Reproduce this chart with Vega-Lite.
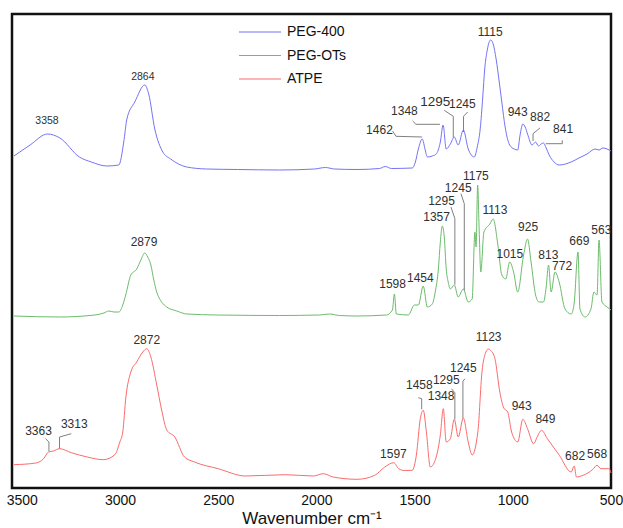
{
  "$schema": "https://vega.github.io/schema/vega-lite/v6.json",
  "width": 599,
  "height": 474,
  "padding": {"left": 6, "top": 12, "right": 0, "bottom": 0},
  "background": "white",
  "config": {
    "view": {"stroke": "#111111", "strokeWidth": 2},
    "font": "Liberation Sans"
  },
  "datasets": {
    "spectra": [
      {"series":"PEG-400","wn":3540,"a":336},{"series":"PEG-400","wn":3458,"a":347},{"series":"PEG-400","wn":3369,"a":358},{"series":"PEG-400","wn":3306,"a":354},{"series":"PEG-400","wn":3207,"a":335},{"series":"PEG-400","wn":3146,"a":330},{"series":"PEG-400","wn":3067,"a":326},{"series":"PEG-400","wn":3006,"a":327},{"series":"PEG-400","wn":2981,"a":350},{"series":"PEG-400","wn":2965,"a":373},{"series":"PEG-400","wn":2925,"a":390},{"series":"PEG-400","wn":2874,"a":407},{"series":"PEG-400","wn":2854,"a":398},{"series":"PEG-400","wn":2823,"a":363},{"series":"PEG-400","wn":2782,"a":340},{"series":"PEG-400","wn":2742,"a":333},{"series":"PEG-400","wn":2660,"a":325},{"series":"PEG-400","wn":2559,"a":323},{"series":"PEG-400","wn":2401,"a":322.5},{"series":"PEG-400","wn":2188,"a":322},{"series":"PEG-400","wn":2010,"a":323},{"series":"PEG-400","wn":1954,"a":324.5},{"series":"PEG-400","wn":1908,"a":323},{"series":"PEG-400","wn":1793,"a":322.5},{"series":"PEG-400","wn":1679,"a":323.5},{"series":"PEG-400","wn":1649,"a":325.5},{"series":"PEG-400","wn":1618,"a":323.5},{"series":"PEG-400","wn":1512,"a":324},{"series":"PEG-400","wn":1496,"a":330},{"series":"PEG-400","wn":1481,"a":343},{"series":"PEG-400","wn":1461,"a":353},{"series":"PEG-400","wn":1446,"a":342},{"series":"PEG-400","wn":1435,"a":335},{"series":"PEG-400","wn":1410,"a":336},{"series":"PEG-400","wn":1390,"a":338},{"series":"PEG-400","wn":1369,"a":350},{"series":"PEG-400","wn":1355,"a":367},{"series":"PEG-400","wn":1339,"a":343},{"series":"PEG-400","wn":1318,"a":348},{"series":"PEG-400","wn":1298,"a":355},{"series":"PEG-400","wn":1278,"a":347},{"series":"PEG-400","wn":1252,"a":362},{"series":"PEG-400","wn":1227,"a":343},{"series":"PEG-400","wn":1196,"a":335},{"series":"PEG-400","wn":1181,"a":345},{"series":"PEG-400","wn":1166,"a":363},{"series":"PEG-400","wn":1153,"a":395},{"series":"PEG-400","wn":1143,"a":423},{"series":"PEG-400","wn":1130,"a":442},{"series":"PEG-400","wn":1113,"a":452},{"series":"PEG-400","wn":1100,"a":448},{"series":"PEG-400","wn":1085,"a":433},{"series":"PEG-400","wn":1069,"a":410},{"series":"PEG-400","wn":1056,"a":390},{"series":"PEG-400","wn":1039,"a":365},{"series":"PEG-400","wn":1016,"a":347},{"series":"PEG-400","wn":993,"a":343},{"series":"PEG-400","wn":975,"a":342},{"series":"PEG-400","wn":963,"a":357},{"series":"PEG-400","wn":949,"a":368},{"series":"PEG-400","wn":937,"a":365},{"series":"PEG-400","wn":925,"a":358},{"series":"PEG-400","wn":902,"a":347},{"series":"PEG-400","wn":884,"a":350},{"series":"PEG-400","wn":869,"a":346},{"series":"PEG-400","wn":856,"a":348},{"series":"PEG-400","wn":844,"a":349},{"series":"PEG-400","wn":830,"a":344},{"series":"PEG-400","wn":815,"a":337},{"series":"PEG-400","wn":790,"a":330},{"series":"PEG-400","wn":764,"a":327},{"series":"PEG-400","wn":703,"a":330},{"series":"PEG-400","wn":663,"a":334},{"series":"PEG-400","wn":622,"a":338},{"series":"PEG-400","wn":581,"a":343},{"series":"PEG-400","wn":561,"a":342},{"series":"PEG-400","wn":541,"a":344},{"series":"PEG-400","wn":520,"a":343},{"series":"PEG-400","wn":500,"a":341},
      {"series":"PEG-OTs","wn":3540,"a":176},{"series":"PEG-OTs","wn":3308,"a":175},{"series":"PEG-OTs","wn":3128,"a":177},{"series":"PEG-OTs","wn":3082,"a":179},{"series":"PEG-OTs","wn":3057,"a":181},{"series":"PEG-OTs","wn":3031,"a":180},{"series":"PEG-OTs","wn":3006,"a":180},{"series":"PEG-OTs","wn":2986,"a":187},{"series":"PEG-OTs","wn":2971,"a":197},{"series":"PEG-OTs","wn":2945,"a":217},{"series":"PEG-OTs","wn":2915,"a":223},{"series":"PEG-OTs","wn":2894,"a":232},{"series":"PEG-OTs","wn":2874,"a":239},{"series":"PEG-OTs","wn":2859,"a":235},{"series":"PEG-OTs","wn":2843,"a":227},{"series":"PEG-OTs","wn":2828,"a":212},{"series":"PEG-OTs","wn":2813,"a":200},{"series":"PEG-OTs","wn":2788,"a":190},{"series":"PEG-OTs","wn":2762,"a":185},{"series":"PEG-OTs","wn":2711,"a":181},{"series":"PEG-OTs","wn":2660,"a":178},{"series":"PEG-OTs","wn":2500,"a":177},{"series":"PEG-OTs","wn":2188,"a":176.5},{"series":"PEG-OTs","wn":1984,"a":177},{"series":"PEG-OTs","wn":1933,"a":178},{"series":"PEG-OTs","wn":1883,"a":176.5},{"series":"PEG-OTs","wn":1793,"a":176},{"series":"PEG-OTs","wn":1644,"a":177},{"series":"PEG-OTs","wn":1613,"a":182},{"series":"PEG-OTs","wn":1603,"a":198},{"series":"PEG-OTs","wn":1593,"a":178},{"series":"PEG-OTs","wn":1532,"a":177},{"series":"PEG-OTs","wn":1501,"a":187},{"series":"PEG-OTs","wn":1481,"a":187},{"series":"PEG-OTs","wn":1456,"a":206},{"series":"PEG-OTs","wn":1435,"a":185},{"series":"PEG-OTs","wn":1410,"a":188},{"series":"PEG-OTs","wn":1395,"a":200},{"series":"PEG-OTs","wn":1379,"a":223},{"series":"PEG-OTs","wn":1369,"a":250},{"series":"PEG-OTs","wn":1359,"a":266},{"series":"PEG-OTs","wn":1349,"a":255},{"series":"PEG-OTs","wn":1339,"a":223},{"series":"PEG-OTs","wn":1329,"a":210},{"series":"PEG-OTs","wn":1318,"a":203},{"series":"PEG-OTs","wn":1298,"a":207},{"series":"PEG-OTs","wn":1278,"a":195},{"series":"PEG-OTs","wn":1252,"a":203},{"series":"PEG-OTs","wn":1227,"a":190},{"series":"PEG-OTs","wn":1207,"a":193},{"series":"PEG-OTs","wn":1193,"a":260},{"series":"PEG-OTs","wn":1187,"a":245},{"series":"PEG-OTs","wn":1179,"a":307},{"series":"PEG-OTs","wn":1171,"a":260},{"series":"PEG-OTs","wn":1163,"a":220},{"series":"PEG-OTs","wn":1147,"a":260},{"series":"PEG-OTs","wn":1117,"a":268},{"series":"PEG-OTs","wn":1100,"a":273},{"series":"PEG-OTs","wn":1076,"a":247},{"series":"PEG-OTs","wn":1056,"a":217},{"series":"PEG-OTs","wn":1036,"a":213},{"series":"PEG-OTs","wn":1016,"a":230},{"series":"PEG-OTs","wn":996,"a":220},{"series":"PEG-OTs","wn":975,"a":200},{"series":"PEG-OTs","wn":945,"a":237},{"series":"PEG-OTs","wn":925,"a":253},{"series":"PEG-OTs","wn":907,"a":230},{"series":"PEG-OTs","wn":884,"a":197},{"series":"PEG-OTs","wn":866,"a":190},{"series":"PEG-OTs","wn":844,"a":190},{"series":"PEG-OTs","wn":830,"a":205},{"series":"PEG-OTs","wn":818,"a":227},{"series":"PEG-OTs","wn":805,"a":200},{"series":"PEG-OTs","wn":785,"a":220},{"series":"PEG-OTs","wn":764,"a":210},{"series":"PEG-OTs","wn":734,"a":183},{"series":"PEG-OTs","wn":703,"a":178},{"series":"PEG-OTs","wn":688,"a":188},{"series":"PEG-OTs","wn":668,"a":240},{"series":"PEG-OTs","wn":658,"a":183},{"series":"PEG-OTs","wn":632,"a":175},{"series":"PEG-OTs","wn":602,"a":183},{"series":"PEG-OTs","wn":587,"a":200},{"series":"PEG-OTs","wn":571,"a":197},{"series":"PEG-OTs","wn":561,"a":252},{"series":"PEG-OTs","wn":546,"a":190},{"series":"PEG-OTs","wn":520,"a":185},{"series":"PEG-OTs","wn":500,"a":182},
      {"series":"ATPE","wn":3540,"a":27.3},{"series":"ATPE","wn":3429,"a":29},{"series":"ATPE","wn":3389,"a":33.3},{"series":"ATPE","wn":3364,"a":40},{"series":"ATPE","wn":3339,"a":41},{"series":"ATPE","wn":3308,"a":43.3},{"series":"ATPE","wn":3248,"a":39.3},{"series":"ATPE","wn":3167,"a":35},{"series":"ATPE","wn":3086,"a":32.3},{"series":"ATPE","wn":3026,"a":37.3},{"series":"ATPE","wn":3001,"a":50},{"series":"ATPE","wn":2986,"a":60},{"series":"ATPE","wn":2970,"a":95},{"series":"ATPE","wn":2945,"a":120},{"series":"ATPE","wn":2915,"a":130},{"series":"ATPE","wn":2884,"a":140},{"series":"ATPE","wn":2864,"a":143.3},{"series":"ATPE","wn":2843,"a":135},{"series":"ATPE","wn":2813,"a":107},{"series":"ATPE","wn":2788,"a":82},{"series":"ATPE","wn":2762,"a":62},{"series":"ATPE","wn":2721,"a":55},{"series":"ATPE","wn":2672,"a":35},{"series":"ATPE","wn":2621,"a":30},{"series":"ATPE","wn":2500,"a":23.3},{"series":"ATPE","wn":2361,"a":16},{"series":"ATPE","wn":2157,"a":17.3},{"series":"ATPE","wn":2015,"a":16},{"series":"ATPE","wn":1965,"a":18.3},{"series":"ATPE","wn":1915,"a":15},{"series":"ATPE","wn":1793,"a":12.7},{"series":"ATPE","wn":1703,"a":16.7},{"series":"ATPE","wn":1652,"a":25},{"series":"ATPE","wn":1606,"a":29.3},{"series":"ATPE","wn":1581,"a":23.3},{"series":"ATPE","wn":1552,"a":21.5},{"series":"ATPE","wn":1512,"a":21.7},{"series":"ATPE","wn":1491,"a":37},{"series":"ATPE","wn":1471,"a":73.3},{"series":"ATPE","wn":1456,"a":81.7},{"series":"ATPE","wn":1440,"a":60},{"series":"ATPE","wn":1420,"a":25},{"series":"ATPE","wn":1390,"a":35},{"series":"ATPE","wn":1369,"a":57},{"series":"ATPE","wn":1354,"a":83.3},{"series":"ATPE","wn":1339,"a":50},{"series":"ATPE","wn":1318,"a":53.3},{"series":"ATPE","wn":1298,"a":72.7},{"series":"ATPE","wn":1278,"a":55},{"series":"ATPE","wn":1252,"a":74},{"series":"ATPE","wn":1227,"a":50},{"series":"ATPE","wn":1207,"a":37},{"series":"ATPE","wn":1178,"a":60},{"series":"ATPE","wn":1157,"a":120},{"series":"ATPE","wn":1137,"a":140},{"series":"ATPE","wn":1125,"a":143},{"series":"ATPE","wn":1113,"a":141.7},{"series":"ATPE","wn":1091,"a":133.3},{"series":"ATPE","wn":1066,"a":100},{"series":"ATPE","wn":1046,"a":84},{"series":"ATPE","wn":1026,"a":80},{"series":"ATPE","wn":1006,"a":60},{"series":"ATPE","wn":975,"a":50},{"series":"ATPE","wn":949,"a":72.7},{"series":"ATPE","wn":925,"a":63.3},{"series":"ATPE","wn":894,"a":48.3},{"series":"ATPE","wn":876,"a":55},{"series":"ATPE","wn":854,"a":61.7},{"series":"ATPE","wn":824,"a":53.3},{"series":"ATPE","wn":763,"a":36.7},{"series":"ATPE","wn":703,"a":20},{"series":"ATPE","wn":687,"a":26},{"series":"ATPE","wn":676,"a":15},{"series":"ATPE","wn":642,"a":16.7},{"series":"ATPE","wn":592,"a":22.7},{"series":"ATPE","wn":571,"a":26.7},{"series":"ATPE","wn":551,"a":23.3},{"series":"ATPE","wn":510,"a":23.3},{"series":"ATPE","wn":500,"a":19}
    ],
    "leaders": [
      {"id":"b1462","k":1,"wn":1612,"a":361},{"id":"b1462","k":2,"wn":1595,"a":355.7},{"id":"b1462","k":3,"wn":1462,"a":355},
      {"id":"b1348","k":1,"wn":1510,"a":371},{"id":"b1348","k":2,"wn":1493,"a":367.7},{"id":"b1348","k":3,"wn":1371,"a":367.7},
      {"id":"b1295","k":1,"wn":1349,"a":381.7},{"id":"b1295","k":2,"wn":1303,"a":375.7},{"id":"b1295","k":3,"wn":1303,"a":354.3},
      {"id":"b1245","k":1,"wn":1230,"a":380},{"id":"b1245","k":2,"wn":1251,"a":375.7},{"id":"b1245","k":3,"wn":1251,"a":360},
      {"id":"b882","k":1,"wn":862,"a":364},{"id":"b882","k":2,"wn":897,"a":358.3},{"id":"b882","k":3,"wn":897,"a":351},
      {"id":"b841","k":1,"wn":748,"a":351.7},{"id":"b841","k":2,"wn":748,"a":348.3},{"id":"b841","k":3,"wn":832,"a":348.3},
      {"id":"g1295","k":1,"wn":1315,"a":285},{"id":"g1295","k":2,"wn":1295,"a":273.3},{"id":"g1295","k":3,"wn":1295,"a":207.3},
      {"id":"g1245","k":1,"wn":1264,"a":298.3},{"id":"g1245","k":2,"wn":1247,"a":288.3},{"id":"g1245","k":3,"wn":1247,"a":201.7},
      {"id":"r3363","k":1,"wn":3379,"a":53.3},{"id":"r3363","k":2,"wn":3362,"a":50},{"id":"r3363","k":3,"wn":3362,"a":40.7},
      {"id":"r3313","k":1,"wn":3248,"a":58.3},{"id":"r3313","k":2,"wn":3308,"a":55},{"id":"r3313","k":3,"wn":3308,"a":43.3},
      {"id":"r1458","k":1,"wn":1481,"a":94.3},{"id":"r1458","k":2,"wn":1464,"a":93.3},{"id":"r1458","k":3,"wn":1464,"a":82.7},
      {"id":"r1295","k":1,"wn":1313,"a":103.3},{"id":"r1295","k":2,"wn":1295,"a":99.3},{"id":"r1295","k":3,"wn":1295,"a":72.7},
      {"id":"r1245","k":1,"wn":1244,"a":113.3},{"id":"r1245","k":2,"wn":1254,"a":110.7},{"id":"r1245","k":3,"wn":1254,"a":74}
    ],
    "ticks": [
      {"wn":500,"kind":"major"},{"wn":750,"kind":"minor"},{"wn":1000,"kind":"major"},{"wn":1250,"kind":"minor"},{"wn":1500,"kind":"major"},{"wn":1750,"kind":"minor"},{"wn":2000,"kind":"major"},{"wn":2250,"kind":"minor"},{"wn":2500,"kind":"major"},{"wn":2750,"kind":"minor"},{"wn":3000,"kind":"major"},{"wn":3250,"kind":"minor"},{"wn":3500,"kind":"major"}
    ],
    "labels": [
      {"series":"PEG-400","label":"3358","wn":3372,"a":371},
      {"series":"PEG-400","label":"2864","wn":2884,"a":415},
      {"series":"PEG-400","label":"1115","wn":1115,"a":460},
      {"series":"PEG-400","label":"1462","wn":1679,"a":362},
      {"series":"PEG-400","label":"1348","wn":1552,"a":381},
      {"series":"PEG-400","label":"1295","wn":1395,"a":390},
      {"series":"PEG-400","label":"1245","wn":1257,"a":388},
      {"series":"PEG-400","label":"943","wn":975,"a":380},
      {"series":"PEG-400","label":"882","wn":861,"a":375},
      {"series":"PEG-400","label":"841","wn":744,"a":363},
      {"series":"PEG-OTs","label":"2879","wn":2878,"a":250},
      {"series":"PEG-OTs","label":"1598","wn":1612,"a":208},
      {"series":"PEG-OTs","label":"1454","wn":1471,"a":214},
      {"series":"PEG-OTs","label":"1357","wn":1388,"a":275},
      {"series":"PEG-OTs","label":"1295","wn":1363,"a":291},
      {"series":"PEG-OTs","label":"1245","wn":1278,"a":304},
      {"series":"PEG-OTs","label":"1175","wn":1188,"a":316},
      {"series":"PEG-OTs","label":"1113","wn":1091,"a":282},
      {"series":"PEG-OTs","label":"1015","wn":1015,"a":238},
      {"series":"PEG-OTs","label":"925","wn":922,"a":265},
      {"series":"PEG-OTs","label":"813","wn":819,"a":237},
      {"series":"PEG-OTs","label":"772","wn":749,"a":226},
      {"series":"PEG-OTs","label":"669","wn":661,"a":251},
      {"series":"PEG-OTs","label":"563","wn":549,"a":262},
      {"series":"ATPE","label":"3363","wn":3415,"a":61},
      {"series":"ATPE","label":"3313","wn":3233,"a":68},
      {"series":"ATPE","label":"2872","wn":2864,"a":152},
      {"series":"ATPE","label":"1597","wn":1608,"a":38},
      {"series":"ATPE","label":"1458","wn":1476,"a":107},
      {"series":"ATPE","label":"1348","wn":1365,"a":96},
      {"series":"ATPE","label":"1295","wn":1339,"a":111.7},
      {"series":"ATPE","label":"1245","wn":1252,"a":124.3},
      {"series":"ATPE","label":"1123","wn":1123,"a":155},
      {"series":"ATPE","label":"943","wn":955,"a":86},
      {"series":"ATPE","label":"849","wn":834,"a":72.7},
      {"series":"ATPE","label":"682","wn":683,"a":36},
      {"series":"ATPE","label":"568","wn":571,"a":37.7}
    ]
  },
  "encoding": {
    "x": {
      "field": "wn", "type": "quantitative",
      "scale": {"domain": [500, 3550], "reverse": true, "nice": false, "zero": false},
      "axis": {
        "title": "Wavenumber cm⁻¹",
        "titleFont": "Liberation Sans", "titleFontSize": 17, "titleFontWeight": "normal", "titleColor": "#111111", "titlePadding": 3,
        "values": [500,1000,1500,2000,2500,3000,3500],
        "format": "d",
        "labelFont": "Liberation Sans", "labelFontSize": 14, "labelColor": "#111111", "labelPadding": 5,
        "labelOverlap": false, "labelFlush": false,
        "domain": false, "grid": false, "ticks": false
      }
    },
    "y": {
      "field": "a", "type": "quantitative",
      "scale": {"domain": [4, 478], "nice": false, "zero": false},
      "axis": null
    }
  },
  "layer": [
    {
      "data": {"values": [{"x1": 3550, "x2": 500, "y1": 4, "y2": 478}]},
      "mark": {"type": "rect", "fill": "transparent", "stroke": "#111111", "strokeWidth": 2.5},
      "encoding": {
        "x": {"field": "x1", "type": "quantitative"},
        "x2": {"field": "x2"},
        "y": {"field": "y1", "type": "quantitative"},
        "y2": {"field": "y2"}
      }
    },
    {
      "data": {"name": "ticks"},
      "transform": [{"filter": "datum.kind === 'major'"}],
      "mark": {"type": "rule", "stroke": "#111111", "strokeWidth": 2.5},
      "encoding": {
        "y": {"datum": 4, "type": "quantitative"},
        "y2": {"datum": 13}
      }
    },
    {
      "data": {"name": "ticks"},
      "transform": [{"filter": "datum.kind === 'minor'"}],
      "mark": {"type": "rule", "stroke": "#111111", "strokeWidth": 2.5},
      "encoding": {
        "y": {"datum": 4, "type": "quantitative"},
        "y2": {"datum": 9}
      }
    },
    {
      "data": {"name": "spectra"},
      "mark": {"type": "line", "strokeWidth": 1, "interpolate": "monotone"},
      "encoding": {
        "color": {
          "field": "series", "type": "nominal",
          "scale": {"domain": ["PEG-400", "PEG-OTs", "ATPE"], "range": ["#7474f4", "#6cbc6c", "#fa6c6c"]},
          "legend": {
            "title": null, "orient": "none", "legendX": 226, "legendY": 10,
            "symbolType": "stroke", "symbolSize": 1764, "symbolStrokeWidth": 1.2,
            "labelFont": "Liberation Sans", "labelFontSize": 14, "labelColor": "#111111",
            "labelOffset": 5, "clipHeight": 16, "rowPadding": 7.5
          }
        }
      }
    },
    {
      "data": {"name": "leaders"},
      "mark": {"type": "line", "stroke": "#7f7f7f", "strokeWidth": 1},
      "encoding": {
        "detail": {"field": "id"},
        "order": {"field": "k", "type": "quantitative"}
      }
    },
    {
      "data": {"name": "labels"},
      "mark": {"type": "text", "font": "Liberation Sans", "color": "#303030"},
      "encoding": {
        "text": {"field": "label"},
        "size": {"condition": [
          {"test": "datum.series === 'PEG-400' && (datum.label === '3358' || datum.label === '2864')", "value": 10.5},
          {"test": "datum.series === 'PEG-400' && datum.label === '1295'", "value": 13.5}
        ], "value": 12},
        "fontWeight": {"condition": {"test": "datum.series === 'PEG-400' && datum.label === '1295'", "value": "bold"}, "value": "normal"}
      }
    }
  ]
}
